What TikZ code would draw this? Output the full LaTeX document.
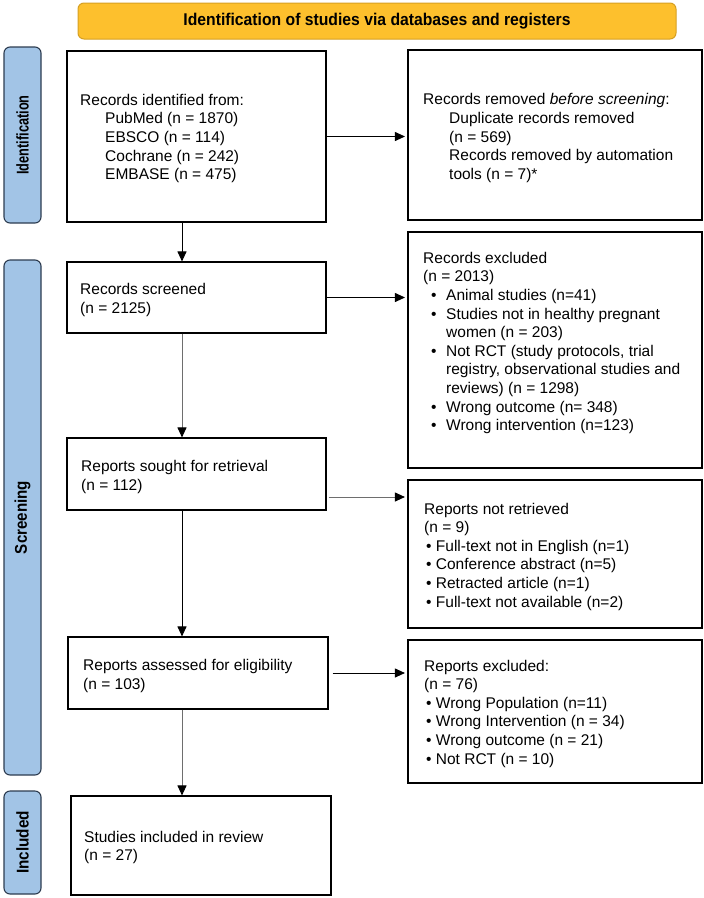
\documentclass[tikz,border=0pt]{standalone}
\usepackage{fontspec}
\setmainfont{Liberation Sans}
\usepackage{graphicx}
\usetikzlibrary{arrows.meta}
\definecolor{bannerfill}{RGB}{253,192,45}
\definecolor{bannerdraw}{RGB}{214,160,35}
\definecolor{labfill}{RGB}{162,196,230}
\definecolor{labdraw}{RGB}{45,60,80}
\definecolor{arrgray}{RGB}{110,110,110}
\newcommand{\bitem}[1]{\hspace*{8pt}\makebox[15pt][l]{•}#1}
\newcommand{\bcont}[1]{\hspace*{23pt}#1}
\newcommand{\ind}{\hspace*{25pt}}
\begin{document}
\begin{tikzpicture}[x=1pt,y=-1pt,
 box/.style={draw=black,line width=1.1pt,fill=white,inner sep=0pt},
 txt/.style={anchor=west,align=left,inner sep=0pt,font=\fontsize{15.5}{18.6}\selectfont},
 lab/.style={draw=labdraw,fill=labfill,line width=1.1pt,rounded corners=6pt,inner sep=0pt,font=\bfseries\fontsize{17}{20}\selectfont},
 arr/.style={-{Triangle[length=10pt,width=9pt]},line width=0.9pt},
 arrg/.style={-{Triangle[length=10pt,width=9pt,color=black]},line width=0.9pt,draw=arrgray},
]
\useasboundingbox (0,0) rectangle (704,898);
% banner
\node[draw=bannerdraw, fill=bannerfill, line width=1pt, rounded corners=6pt, minimum width=598pt, minimum height=36pt, inner sep=0pt, font=\bfseries\fontsize{17}{20}\selectfont] (banner) at (377,21) {\scalebox{0.925}[1]{Identification of studies via databases and registers}};
% side labels
\node[lab, minimum width=37pt, minimum height=176pt] (lid) at (22.5,135) {\rotatebox{90}{\scalebox{0.75}[1]{Identification}}};
\node[lab, minimum width=37pt, minimum height=515pt] (lsc) at (22.5,517.5) {\rotatebox{90}{\scalebox{0.89}[1]{Screening}}};
\node[lab, minimum width=37pt, minimum height=103pt] (lin) at (22.5,842.5) {\rotatebox{90}{\scalebox{0.9}[1]{Included}}};
% boxes
\node[box, minimum width=259pt, minimum height=171pt] (b1) at (196.5,136.5) {};
\node[box, minimum width=294pt, minimum height=170pt] (r1) at (555,135) {};
\node[box, minimum width=259pt, minimum height=71pt] (b2) at (196.5,297.5) {};
\node[box, minimum width=294pt, minimum height=236pt] (r2) at (555,350) {};
\node[box, minimum width=259pt, minimum height=72pt] (b3) at (196.5,474) {};
\node[box, minimum width=294pt, minimum height=148pt] (r3) at (555,554) {};
\node[box, minimum width=260pt, minimum height=72pt] (b4) at (198,673) {};
\node[box, minimum width=294pt, minimum height=143pt] (r4) at (555,711.5) {};
\node[box, minimum width=260pt, minimum height=99pt] (b5) at (201,845.5) {};
% texts
\node[txt] (t1) at (80,138.5) {Records identified from:\\
\ind PubMed (n = 1870)\\
\ind EBSCO (n = 114)\\
\ind Cochrane (n = 242)\\
\ind EMBASE (n = 475)};
\node[txt] (tr1) at (423,138) {Records removed \textit{before screening}:\\
\hspace*{26pt}Duplicate records removed\\
\hspace*{26pt}(n = 569)\\
\hspace*{26pt}Records removed by automation\\
\hspace*{26pt}tools (n = 7)*};
\node[txt] (t2) at (80,300) {Records screened\\(n = 2125)};
\node[txt] (tr2) at (423,343) {Records excluded\\
(n = 2013)\\
\bitem{Animal studies (n=41)}\\
\bitem{Studies not in healthy pregnant}\\
\bcont{women (n = 203)}\\
\bitem{Not RCT (study protocols, trial}\\
\bcont{registry, observational studies and}\\
\bcont{reviews) (n = 1298)}\\
\bitem{Wrong outcome (n= 348)}\\
\bitem{Wrong intervention (n=123)}};
\node[txt] (t3) at (81,477) {Reports sought for retrieval\\(n = 112)};
\node[txt] (tr3) at (424,556.5) {Reports not retrieved\\
(n = 9)\\
\hspace*{2pt}• Full-text not in English (n=1)\\
\hspace*{2pt}• Conference abstract (n=5)\\
\hspace*{2pt}• Retracted article (n=1)\\
\hspace*{2pt}• Full-text not available (n=2)};
\node[txt] (t4) at (83,676) {Reports assessed for eligibility\\(n = 103)};
\node[txt] (tr4) at (424,713.5) {Reports excluded:\\
(n = 76)\\
\hspace*{2pt}• Wrong Population (n=11)\\
\hspace*{2pt}• Wrong Intervention (n = 34)\\
\hspace*{2pt}• Wrong outcome (n = 21)\\
\hspace*{2pt}• Not RCT (n = 10)};
\node[txt] (t5) at (84,847.5) {Studies included in review\\(n = 27)};
% connectors
\coordinate (vx) at (182,0);
\coordinate (h3) at (0,497);
\draw[arr] (b1.south -| vx) -- (b2.north -| vx);
\draw[arrg] (b2.south -| vx) -- (b3.north -| vx);
\draw[arr] (b3.south -| vx) -- (b4.north -| vx);
\draw[arrg] (b4.south -| vx) -- (b5.north -| vx);
\draw[arr, shorten >=2.5pt] (b1.east) -- (r1.west |- b1.east);
\draw[arr, shorten >=2.5pt] (b2.east) -- (r2.west |- b2.east);
\draw[arrg, shorten <=2pt, shorten >=2.5pt] (b3.east |- h3) -- (r3.west |- h3);
\draw[arr, shorten <=4pt, shorten >=2.5pt] (b4.east) -- (r4.west |- b4.east);
\end{tikzpicture}
\end{document}
